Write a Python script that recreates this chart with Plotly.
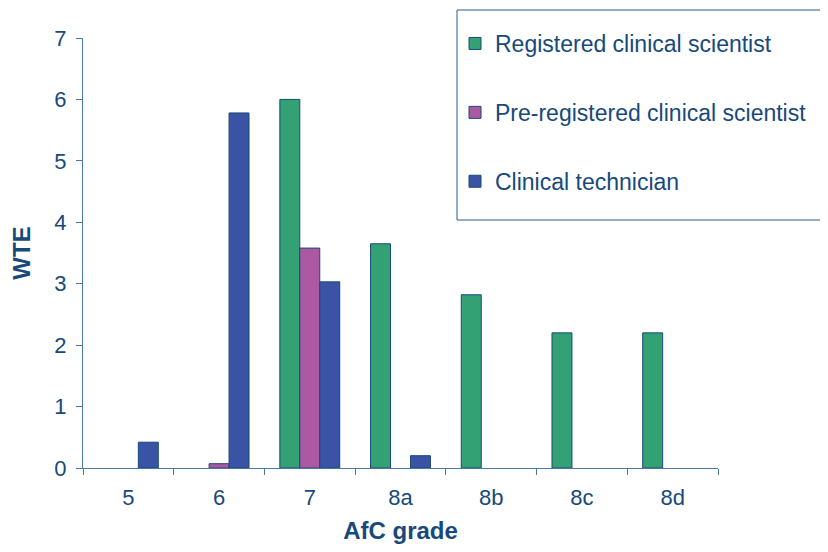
import plotly.graph_objects as go

grades = ["5", "6", "7", "8a", "8b", "8c", "8d"]
registered = [None, None, 6.0, 3.65, 2.82, 2.2, 2.2]
preregistered = [None, 0.07, 3.58, None, None, None, None]
technician = [0.42, 5.78, 3.03, 0.2, None, None, None]
series_names = ["Registered clinical scientist", "Pre-registered clinical scientist", "Clinical technician"]
colors = ["#33a173", "#ad58a2", "#3a53a4"]

W, H = 828, 552
OFF = 8  # page body margin
# target plot area in screenshot pixels: x 83..718, y 38..468
ml, mt = 83 - OFF, 38 - OFF
mr = W - (718 - OFF)
mb = H - (468 - OFF)
pw, ph = W - ml - mr, H - mt - mb

def px_x(p):
    return (p - OFF - ml) / pw

def px_y(p):
    return (H - mb - (p - OFF)) / ph

txt = "#17497c"
fig = go.Figure()
for i, (name, vals) in enumerate(zip(series_names, [registered, preregistered, technician])):
    fig.add_trace(go.Bar(
        x=grades, y=vals, name=name, legendgroup=f"g{i}",
        marker=dict(color=colors[i], line=dict(color="#174a7a", width=1)),
    ))

fig.add_shape(type="rect", xref="paper", yref="paper",
              x0=px_x(457), x1=px_x(845), y0=px_y(220), y1=px_y(10),
              line=dict(color="#2a5d8f", width=1), fillcolor="rgba(0,0,0,0)")

fig.update_layout(
    width=W, height=H,
    margin=dict(l=ml, r=mr, t=mt, b=mb, autoexpand=False),
    paper_bgcolor="white", plot_bgcolor="white",
    font=dict(family="Liberation Sans, Arial, sans-serif", size=22, color=txt),
    barmode="group", bargap=0.34, bargroupgap=0,
    showlegend=True,
    legend=dict(xref="container", yref="container", x=(455 - OFF) / W, y=1 - (22 - OFF) / H,
                xanchor="left", yanchor="top",
                bgcolor="rgba(0,0,0,0)", borderwidth=0, tracegroupgap=36,
                traceorder="grouped", font=dict(size=23, color=txt)),
    xaxis=dict(title=dict(text="<b>AfC grade</b>", standoff=12, font=dict(size=24, color=txt)),
               showline=True, linecolor="#4a78aa", linewidth=1,
               ticks="outside", ticklen=6, tickcolor="#4a78aa", tickson="boundaries",
               ticklabelstandoff=10,
               showgrid=False, tickfont=dict(size=22, color=txt), automargin=False),
    yaxis=dict(title=dict(text="<b>WTE</b>", standoff=20, font=dict(size=24, color=txt)),
               range=[0, 7], dtick=1, showline=True, linecolor="#4a78aa", linewidth=1,
               ticks="outside", ticklen=6, tickcolor="#4a78aa", ticklabelstandoff=5,
               showgrid=False, zeroline=False, tickfont=dict(size=22, color=txt),
               automargin=False),
)

fig.write_html("out.html")
